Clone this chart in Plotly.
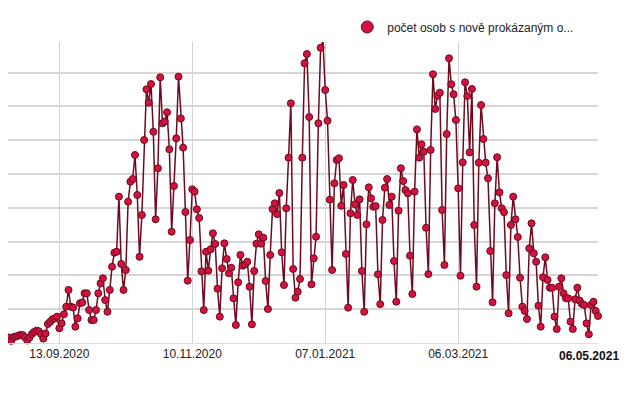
import pandas as pd
import plotly.graph_objects as go

# ---- data -------------------------------------------------------------
START_DATE = "2020-08-16"
SERIES_NAME = "počet osob s nově prokázaným o..."

daily_cases = [
    250,
    380, 420, 370, 530, 500, 330, 130,
    350, 380, 430, 480, 470, 340, 150,
    320, 530, 650, 730, 700, 530, 260,
    560, 1125, 1260, 1400, 1460, 1560, 870,
    1165, 1700, 2150, 3140, 2150, 2100, 965,
    1460, 2350, 2400, 2940, 2940, 1950, 1360,
    1360, 1950, 2940, 3530, 3830, 2540, 1850,
    3140, 4515, 5340, 5400, 8660, 4675, 3140,
    4320, 8360, 9545, 9700, 11125, 8760, 5100,
    7575, 12010, 15010, 14220, 15325, 12500, 7320,
    10340, 15720, 13000, 13100, 13650, 11460, 6585,
    9290, 12110, 15760, 13290, 11560, 7750, 3690,
    6095, 9095, 8955, 7910, 7400, 4240, 1950,
    5400, 4280, 5540, 6490, 5860, 3215, 1560,
    4420, 5900, 4970, 4125, 4455, 2645, 1065,
    3590, 5210, 4575, 4650, 4810, 3330, 1105,
    4260, 5875, 6430, 5875, 6230, 3670, 2010,
    5210, 7930, 8265, 7630, 8875, 5365, 3430,
    7970, 10965, 14180, 4380, 2680, 3035, 3790,
    10965, 16550, 17100, 13370, 3470, 5010, 6290,
    13000, 17470, 17870, 14970, 13150, 8480, 4320,
    9450, 10830, 10930, 8120, 9350, 5270, 2090,
    7675, 9645, 8205, 7575, 8500, 4260, 1850,
    7025, 9210, 8560, 8065, 8100, 4065, 2300,
    7280, 9190, 9700, 8165, 8660, 4850, 2440,
    7830, 10340, 9585, 9050, 8860, 5165, 2900,
    8955, 12640, 10965, 11755, 11320, 6820, 4080,
    11420, 15900, 13850, 14630, 14810, 7870, 4615,
    12365, 16845, 15310, 14715, 13195, 9150, 3980,
    10690, 15425, 14615, 11280, 15030, 6980, 3330,
    10670, 14080, 12070, 10670, 9745, 5445, 2410,
    8265, 10990, 8915, 7970, 7735, 4020, 1760,
    6980, 8660, 7320, 6270, 3865, 2150, 1895,
    1420, 5600, 7080, 5305, 4810, 2205, 965,
    3890, 5070, 3730, 3270, 3270, 1560, 830,
    3330, 3830, 2940, 2645, 2645, 1260, 830,
    2585, 3270, 2505, 2310, 2250, 1165, 515,
    2250, 2440, 1895, 1600,
]

tick_dates = ["2020-09-13", "2020-11-10", "2021-01-07", "2021-03-06"]
tick_labels = ["13.09.2020", "10.11.2020", "07.01.2021", "06.03.2021"]
end_date = "2021-05-06"
end_label = "<b>06.05.2021</b>"

x_range = ["2020-08-21 14:30", end_date]
y_range = [0, 17810]

# ---- figure -----------------------------------------------------------
dates = pd.date_range(START_DATE, periods=len(daily_cases), freq="D")

LINE_COLOR = "#6f0a1e"
FILL_COLOR = "#d3123f"
EDGE_COLOR = "#6a0a1c"

fig = go.Figure()
fig.add_trace(go.Scatter(
    x=dates, y=daily_cases, mode="lines+markers",
    line=dict(color=LINE_COLOR, width=1.5),
    marker=dict(size=7, color=FILL_COLOR, line=dict(color=EDGE_COLOR, width=1)),
    cliponaxis=False, showlegend=False, name=SERIES_NAME,
))
fig.add_trace(go.Scatter(
    x=[None], y=[None], mode="markers", name=SERIES_NAME,
    marker=dict(size=12, color=FILL_COLOR, line=dict(color=EDGE_COLOR, width=1)),
    showlegend=True,
))

# bold end-of-range date label (kept inside the visible page)
fig.add_annotation(
    x=end_date, y=0, xref="x", yref="y", text=end_label, showarrow=False,
    xanchor="right", yanchor="top", xshift=23, yshift=-4,
    font=dict(size=12, color="#111111", family="Liberation Sans, Arial, sans-serif"),
)

fig.update_layout(
    width=622, height=392,
    margin=dict(l=0, r=32, t=34, b=57),
    paper_bgcolor="white", plot_bgcolor="white",
    font=dict(family="Liberation Sans, Arial, sans-serif", size=12, color="#222222"),
    legend=dict(orientation="h", x=0.575, xanchor="left", y=1.05, yanchor="middle",
                font=dict(size=12, color="#222222"), bgcolor="rgba(0,0,0,0)",
                itemsizing="trace"),
    xaxis=dict(range=x_range, tickmode="array", tickvals=tick_dates, ticktext=tick_labels,
               showgrid=True, gridcolor="#d4d4d4", gridwidth=1,
               showline=True, linecolor="#dddddd", linewidth=1,
               ticks="", tickfont=dict(size=12, color="#222222"), zeroline=False),
    yaxis=dict(range=y_range, dtick=2000, tick0=0, showticklabels=False,
               showgrid=True, gridcolor="#d6d6d6", gridwidth=2, zeroline=False,
               ticks=""),
)

fig.write_html("out.html")
